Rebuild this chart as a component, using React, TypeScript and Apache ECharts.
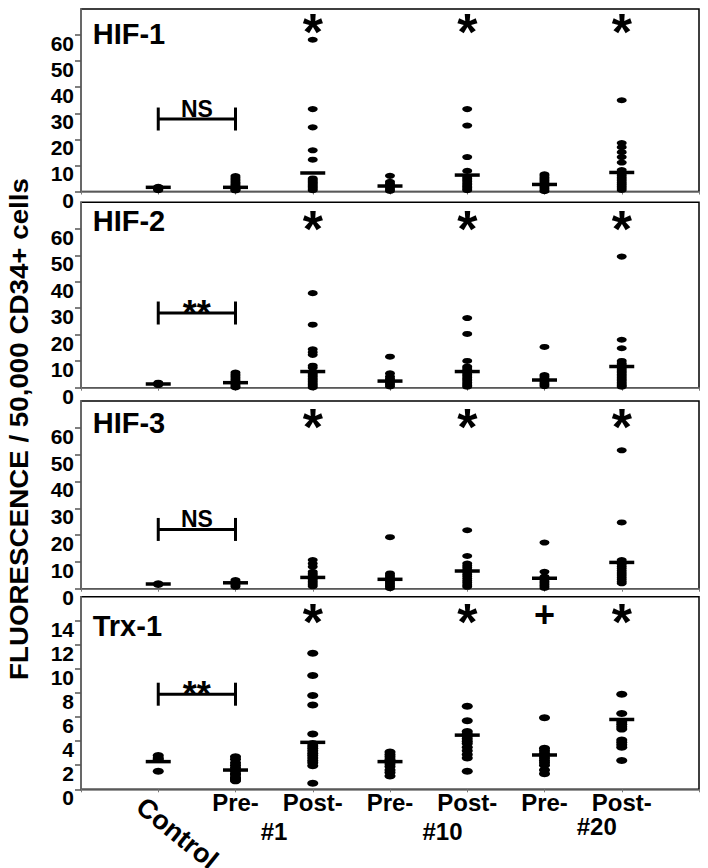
import React, { useEffect, useRef } from 'react';
import * as echarts from 'echarts';

const FONT = "'Liberation Sans', Arial, Helvetica, sans-serif";

// x categories sit at positions 1..7 on each panel
const categories = ['Control', 'Pre-', 'Post-', 'Pre-', 'Post-', 'Pre-', 'Post-'];
const groupLabels = ['#1', '#10', '#20'];
const panelNames = ['HIF-1', 'HIF-2', 'HIF-3', 'Trx-1'];
const yMax = [70, 70, 70, 16];
const yInterval = [10, 10, 10, 2];

// HIF-1
const hif1 = [
  [0.5, 0.8, 1.0, 1.3, 1.6, 1.8],
  [5.9, 5.3, 4.7, 4.1, 3.5, 3.0, 2.5, 2.0, 1.6, 1.2, 0.9, 0.6, 0.4],
  [58.2, 31.6, 24.6, 15.8, 12.2, 5.0, 4.5, 4.0, 3.5, 3.0, 2.5, 2.0, 1.5, 1.0, 0.5],
  [6.0, 3.7, 3.1, 2.5, 1.9, 1.3, 0.7, 0.2],
  [31.6, 25.3, 13.2, 7.9, 5.6, 5.0, 4.4, 3.8, 3.2, 2.6, 2.0, 1.5, 1.0, 0.5],
  [6.6, 6.0, 5.4, 4.8, 4.2, 3.6, 3.0, 2.4, 1.8, 1.2, 0.6, 0.1],
  [35.0, 18.6, 17.0, 15.1, 13.2, 11.1, 8.2, 6.9, 6.2, 5.5, 4.8, 4.1, 3.4, 2.7, 2.0, 1.3, 0.6],
];
const hif1Means = [1.6, 1.6, 7.1, 2.1, 6.3, 2.7, 7.3];

// HIF-2
const hif2 = [
  [1.0, 1.3, 1.6, 1.9],
  [5.7, 5.1, 4.5, 3.9, 3.3, 2.7, 2.1, 1.5, 1.0, 0.5, 0.1],
  [35.7, 23.8, 14.5, 13.4, 12.4, 8.3, 7.5, 6.0, 5.4, 4.8, 4.2, 3.6, 3.0, 2.4, 1.8, 1.2, 0.6, 0.1],
  [11.7, 5.4, 4.2, 3.5, 2.9, 2.3, 1.7, 1.1, 0.5],
  [26.3, 20.3, 10.1, 8.0, 7.4, 6.8, 6.2, 5.6, 5.0, 4.4, 3.8, 3.2, 2.6, 2.0, 1.4, 0.8, 0.4],
  [15.4, 4.8, 4.2, 3.6, 3.0, 2.4, 1.8, 1.2, 0.6],
  [49.5, 18.1, 14.9, 10.1, 9.2, 8.6, 8.0, 7.4, 6.8, 6.2, 5.6, 5.0, 4.4, 3.8, 3.2, 2.6, 2.0, 1.4, 0.8, 0.4],
];
const hif2Means = [1.4, 1.9, 6.1, 2.5, 6.1, 2.9, 8.0];

// HIF-3
const hif3 = [
  [1.4, 1.7, 2.0],
  [3.2, 2.7, 2.2, 1.7, 1.2, 0.7],
  [10.7, 9.4, 8.2, 6.3, 5.7, 5.1, 4.5, 3.9, 3.3, 2.7, 2.1, 1.5, 0.9],
  [19.2, 5.7, 5.0, 4.4, 3.8, 3.2, 2.6, 2.0, 1.4, 0.8, 0.2],
  [21.8, 12.2, 9.4, 8.6, 7.8, 7.0, 6.2, 5.4, 4.6, 3.8, 3.0, 2.2, 1.4, 0.7],
  [17.2, 6.3, 4.5, 3.9, 3.3, 2.7, 2.1, 1.5, 0.9, 0.3],
  [51.6, 24.7, 10.7, 9.9, 9.1, 8.3, 7.5, 6.7, 5.9, 5.1, 4.3, 3.5, 2.7, 2.0],
];
const hif3Means = [1.75, 2.2, 4.2, 3.5, 6.6, 3.9, 9.8];

// Trx-1
const trx1 = [
  [2.8, 2.6, 2.5, 1.5],
  [2.7, 2.5, 2.2, 2.0, 1.8, 1.6, 1.5, 1.3, 1.2, 1.0, 0.9, 0.8, 0.7],
  [11.3, 9.45, 7.8, 7.0, 4.6, 3.8, 3.6, 3.4, 3.2, 3.0, 2.8, 2.6, 2.4, 2.2, 1.95, 0.5],
  [3.1, 2.9, 2.7, 2.5, 2.3, 2.1, 1.9, 1.6, 1.4, 1.1],
  [6.9, 5.7, 4.8, 4.6, 4.4, 4.2, 4.0, 3.8, 3.5, 3.2, 2.9, 2.6, 1.5],
  [5.95, 3.4, 3.2, 3.0, 2.8, 2.6, 2.4, 2.2, 2.0, 1.6, 1.3],
  [7.9, 6.3, 5.6, 5.4, 5.2, 5.0, 4.1, 3.9, 3.7, 3.5, 2.4],
];
const trx1Means = [2.3, 1.6, 3.9, 2.3, 4.5, 2.85, 5.8];

const panelData = [hif1, hif2, hif3, trx1];
const panelMeans = [hif1Means, hif2Means, hif3Means, trx1Means];

// significance annotations
const bracketY = [27.8, 28.2, 22.1, 7.9];
const bracketText = ['NS', '**', 'NS', '**'];
const starY = [64, 62.6, 63.1, 14.5];
const markCols = [
  [{ x: 3, t: '*' }, { x: 5, t: '*' }, { x: 7, t: '*' }],
  [{ x: 3, t: '*' }, { x: 5, t: '*' }, { x: 7, t: '*' }],
  [{ x: 3, t: '*' }, { x: 5, t: '*' }, { x: 7, t: '*' }],
  [{ x: 3, t: '*' }, { x: 5, t: '*' }, { x: 6, t: '+' }, { x: 7, t: '*' }],
];

// layout
const gridTop = [9, 202.3, 401, 596.7];
const gridBottom = [191.5, 387.7, 588.7, 789.3];
const titleY = [33.7, 221.3, 423.3, 626];

const labelBase = {
  show: true,
  position: 'inside',
  fontWeight: 'bold',
  fontFamily: FONT,
  color: '#000',
  textBorderWidth: 0,
  textBorderColor: 'transparent',
  textShadowBlur: 0,
};

export default function App() {
  const ref = useRef<HTMLDivElement>(null);
  useEffect(() => {
    if (!ref.current) return;
    const chart = echarts.init(ref.current, null, { renderer: 'svg' });
    const grids: any[] = [];
    const xAxes: any[] = [];
    const yAxes: any[] = [];
    const series: any[] = [];
    const graphics: any[] = [];

    for (let p = 0; p < 4; p++) {
      grids.push({
        left: 81,
        right: 9,
        top: gridTop[p],
        height: gridBottom[p] - gridTop[p],
        show: true,
        borderColor: '#000',
        borderWidth: 1.5,
      });
      xAxes.push({
        gridIndex: p,
        type: 'value',
        min: 0,
        max: 8,
        interval: 1,
        axisLine: { show: true, lineStyle: { color: '#777', width: 1.5 } },
        axisTick: { show: true, length: 3, lineStyle: { color: '#777', width: 1 } },
        splitLine: { show: false },
        axisLabel:
          p === 3
            ? {
                show: true,
                margin: 1,
                fontSize: 24,
                fontWeight: 'bold',
                color: '#000',
                fontFamily: FONT,
                formatter: (v: number) => (v >= 2 && v <= 7 ? categories[v - 1] : ''),
              }
            : { show: false },
      });
      yAxes.push({
        gridIndex: p,
        type: 'value',
        min: 0,
        max: yMax[p],
        interval: yInterval[p],
        axisLine: { show: true, lineStyle: { color: '#777', width: 1.5 } },
        axisTick: { show: true, length: 6, lineStyle: { color: '#555', width: 1.5 } },
        splitLine: { show: false },
        axisLabel: {
          showMaxLabel: false,
          fontSize: 21,
          fontWeight: 'bold',
          color: '#000',
          fontFamily: FONT,
          margin: 7,
          verticalAlign: 'top',
          lineHeight: 17,
        },
      });

      const dotSize = p === 3 ? [11, 7] : [10, 6];
      const pts: number[][] = [];
      panelData[p].forEach((vals, ci) => vals.forEach((v) => pts.push([ci + 1, v])));
      series.push({
        type: 'scatter',
        xAxisIndex: p,
        yAxisIndex: p,
        symbol: 'circle',
        symbolSize: dotSize,
        itemStyle: { color: '#000', opacity: 1 },
        data: pts,
        z: 3,
      });
      series.push({
        type: 'scatter',
        xAxisIndex: p,
        yAxisIndex: p,
        symbol: 'rect',
        symbolSize: [25, 3.5],
        itemStyle: { color: '#000', opacity: 1 },
        data: panelMeans[p].map((m, ci) => [ci + 1, m]),
        z: 4,
      });
      series.push({
        type: 'line',
        xAxisIndex: p,
        yAxisIndex: p,
        symbol: 'rect',
        symbolSize: [3, 23],
        showSymbol: true,
        itemStyle: { color: '#000', opacity: 1 },
        lineStyle: { color: '#000', width: 3 },
        data: [
          [1, bracketY[p]],
          [2, bracketY[p]],
        ],
        z: 4,
      });
      const isStar = bracketText[p] === '**';
      series.push({
        type: 'scatter',
        xAxisIndex: p,
        yAxisIndex: p,
        symbolSize: 0,
        itemStyle: { color: '#000', opacity: 1 },
        z: 5,
        data: [
          {
            value: [1.5, bracketY[p]],
            label: {
              ...labelBase,
              formatter: bracketText[p],
              fontSize: isStar ? 36 : 23,
              offset: isStar ? [0, 0.5] : [0, -10],
            },
          },
          ...markCols[p].map((m) => ({
            value: [m.x, starY[p]],
            label: {
              ...labelBase,
              formatter: m.t,
              fontSize: m.t === '*' ? 52 : 36,
              offset: m.t === '*' ? [0, 7] : [0, 0],
            },
          })),
        ],
      });

      graphics.push({
        type: 'text',
        x: 92.7,
        y: titleY[p],
        style: {
          text: panelNames[p],
          font: `bold 29px ${FONT}`,
          fill: '#000',
          textAlign: 'left',
          textVerticalAlign: 'middle',
        },
      });
    }

    graphics.push({
      type: 'text',
      x: 19,
      y: 429,
      rotation: Math.PI / 2,
      scaleX: 1.11,
      style: {
        text: 'FLUORESCENCE / 50,000 CD34+ cells',
        font: `bold 25px ${FONT}`,
        fill: '#000',
        textAlign: 'center',
        textVerticalAlign: 'middle',
      },
    });
    graphics.push({
      type: 'text',
      x: 140,
      y: 803,
      rotation: (-39 * Math.PI) / 180,
      style: {
        text: categories[0],
        font: `bold 27px ${FONT}`,
        fill: '#000',
        textAlign: 'left',
        textVerticalAlign: 'middle',
      },
    });
    const groupPos = [
      [274, 831],
      [442.5, 831],
      [596.7, 826],
    ];
    groupLabels.forEach((g, i) =>
      graphics.push({
        type: 'text',
        x: groupPos[i][0],
        y: groupPos[i][1],
        style: {
          text: g,
          font: `bold 24px ${FONT}`,
          fill: '#000',
          textAlign: 'center',
          textVerticalAlign: 'middle',
        },
      })
    );

    chart.setOption({
      animation: false,
      backgroundColor: '#fff',
      grid: grids,
      xAxis: xAxes,
      yAxis: yAxes,
      series,
      graphic: graphics,
    });
    return () => chart.dispose();
  }, []);
  return (
    <div
      ref={ref}
      style={{ position: 'absolute', left: 0, top: 0, width: 708, height: 868 }}
    />
  );
}
